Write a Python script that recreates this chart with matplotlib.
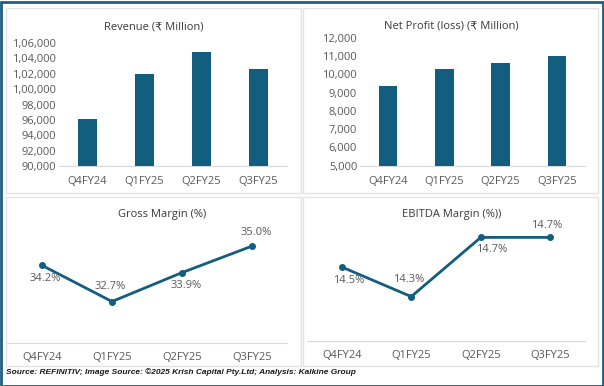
import matplotlib
matplotlib.use("Agg")
import matplotlib.pyplot as plt
from matplotlib.patches import Rectangle
from matplotlib.ticker import FuncFormatter

plt.rcParams['font.family'] = ['Open Sans', 'DejaVu Sans']

quarters = ["Q4FY24", "Q1FY25", "Q2FY25", "Q3FY25"]
revenue = [96060, 102030, 104770, 102590]
net_profit = [9380, 10270, 10600, 11020]
gross_margin = [34.2, 32.7, 33.9, 35.0]
ebitda_margin = [14.5, 14.3, 14.7, 14.7]

W, H = 604, 386
fig = plt.figure(figsize=(W / 100, H / 100), dpi=100)
fig.patch.set_facecolor("white")

BAR = "#135d7e"
TXT = "#595959"
TITLE = "#3a3a3a"
GRID = "#d9d9d9"
TICK_FS = 8.0


def px_axes(l, t, r, b):
    return fig.add_axes([l / W, 1 - b / H, (r - l) / W, (b - t) / H])


def panel(l, t, r, b):
    fig.add_artist(Rectangle((l / W, 1 - b / H), (r - l) / W, (b - t) / H,
                             transform=fig.transFigure, fill=False,
                             edgecolor="#e3e3e3", lw=1.0))


def indian(v, pos=None):
    s = str(int(round(v)))
    if len(s) <= 3:
        return s
    last3 = s[-3:]
    rest = s[:-3]
    groups = []
    while len(rest) > 2:
        groups.insert(0, rest[-2:])
        rest = rest[:-2]
    if rest:
        groups.insert(0, rest)
    return ",".join(groups + [last3])


# outer border
fig.add_artist(Rectangle((0.5 / W, 0.5 / H), (W - 2) / W, (H - 2) / H,
                         transform=fig.transFigure, fill=False,
                         edgecolor="#1d5f7e", lw=2.0))

panel(6, 8, 301, 193)
panel(303, 8, 598, 193)
panel(6, 197, 301, 366)
panel(303, 197, 598, 366)


def style(ax):
    for s in ["top", "right", "left"]:
        ax.spines[s].set_visible(False)
    ax.spines["bottom"].set_color(GRID)
    ax.spines["bottom"].set_linewidth(0.8)
    ax.tick_params(axis="both", length=0, labelsize=TICK_FS, labelcolor=TXT)
    ax.tick_params(axis="x", pad=7.5)
    ax.tick_params(axis="y", pad=2)
    ax.set_facecolor("none")


def bar_panel(box, data, ylim, step, title, title_xy):
    ax = px_axes(*box)
    x = range(len(quarters))
    ax.bar(x, data, width=0.33, color=BAR, zorder=3)
    ax.set_xlim(-0.5, len(quarters) - 0.5)
    ax.set_ylim(*ylim)
    ax.set_yticks(range(ylim[0], ylim[1] + 1, step))
    ax.yaxis.set_major_formatter(FuncFormatter(indian))
    ax.set_xticks(list(x))
    ax.set_xticklabels(quarters)
    style(ax)
    fig.text(title_xy[0] / W, 1 - title_xy[1] / H, title, ha="center",
             va="center", fontsize=8, color=TITLE)
    return ax


bar_panel((59, 43, 287, 166), revenue, (90000, 106000), 2000,
          "Revenue (₹ Million)", (153.5, 27))
bar_panel((360, 37.7, 585, 165.7), net_profit, (5000, 12000), 1000,
          "Net Profit (loss) (₹ Million)", (451, 26))


def line_panel(box, data, ylim, title, title_xy, offsets):
    ax = px_axes(*box)
    x = list(range(len(quarters)))
    ax.plot(x, data, color=BAR, lw=2.0, marker="o", markersize=4, zorder=3)
    ax.set_xlim(-0.5, len(quarters) - 0.5)
    ax.set_ylim(*ylim)
    ax.set_yticks([])
    ax.set_xticks(x)
    ax.set_xticklabels(quarters)
    style(ax)
    ax.tick_params(axis="x", pad=6.5)
    for xi, v, off in zip(x, data, offsets):
        ax.annotate(f"{v:.1f}%", (xi, v), xytext=off, textcoords="offset points",
                    ha="center", va="center", fontsize=TICK_FS, color=TXT)
    fig.text(title_xy[0] / W, 1 - title_xy[1] / H, title, ha="center",
             va="center", fontsize=8, color=TITLE)
    return ax


line_panel((7, 222, 287, 342.5), gross_margin, (31, 36), "Gross Margin (%)",
           (161.7, 214), [(2, -9.5), (-1.5, 11), (3, -9), (3, 10)])
line_panel((307, 222.6, 585, 341), ebitda_margin, (14.0, 14.8), "EBITDA Margin (%))",
           (451.3, 215), [(5, -9.5), (-2, 12), (7.5, -8.5), (-2.5, 8.5)])

fig.text(6 / W, 1 - 372 / H,
         "Source: REFINITIV; Image Source: ©2025 Krish Capital Pty.Ltd; Analysis: Kalkine Group",
         ha="left", va="center", fontsize=6.0, fontweight="bold", fontstyle="italic",
         color="#1a1a1a", family=["Liberation Sans", "DejaVu Sans"])

fig.savefig("out.png", dpi=100)
